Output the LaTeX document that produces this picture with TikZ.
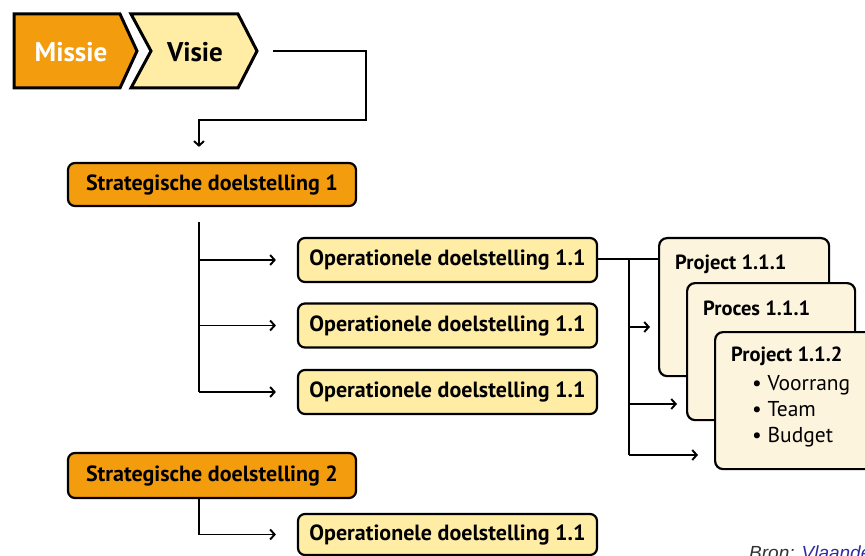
\documentclass[tikz,border=0pt]{standalone}
\usepackage{fontspec}
\setmainfont{PT Sans}
\newfontfamily\bronfont{Liberation Sans}
\usetikzlibrary{arrows.meta,calc}
\definecolor{orng}{RGB}{243,156,14}
\definecolor{lyel}{RGB}{255,237,166}
\definecolor{cream}{RGB}{253,244,222}
\definecolor{bronblue}{RGB}{45,45,160}
\definecolor{brongray}{RGB}{50,50,50}
\begin{document}
\begin{tikzpicture}[x=1pt,y=-1pt,
  strat/.style={draw=black, line width=2.2pt, rounded corners=7pt, fill=orng,
    minimum width=288pt, minimum height=43pt, inner sep=0pt,
    font=\bfseries\fontsize{22}{24}\selectfont},
  oper/.style={strat, fill=lyel, minimum width=299pt, minimum height=44pt},
  proj/.style={draw=black, line width=2.2pt, rounded corners=8pt, fill=cream,
    anchor=north west, inner sep=0pt},
  projtitle/.style={anchor=west, inner sep=0pt, font=\bfseries\fontsize{20.5}{22}\selectfont},
  items/.style={anchor=north west, inner sep=0pt, align=left,
    font=\fontsize{21.5}{26}\selectfont},
  chev/.style={draw=black, line width=3pt, line join=miter},
  chevtext/.style={font=\bfseries\fontsize{27}{30}\selectfont, inner sep=0pt},
  conn/.style={line width=1.9pt},
  arr/.style={conn, -{Straight Barb[length=4.5pt,width=10pt,line width=1.9pt]}}
]
\useasboundingbox (0,0) rectangle (865,556);
\clip (0,0) rectangle (865,556);

% Missie / Visie chevrons
\draw[chev, fill=orng] (14,14) -- (120,14) -- (137,51) -- (120,88) -- (14,88) -- cycle;
\draw[chev, fill=lyel] (131,14) -- (238,14) -- (257,51) -- (238,88) -- (131,88) -- (151,51) -- cycle;
\node[chevtext, text=white] (missie) at (71,52) {Missie};
\node[chevtext] (visie) at (195,52) {Visie};

% Strategic goals
\node[strat] (s1) at (212,184.5) {Strategische doelstelling 1};
\node[strat, minimum height=45pt] (s2) at (212,475.5) {Strategische doelstelling 2};

% Operational goals
\node[oper] (o1) at (447.5,260) {Operationele doelstelling 1.1};
\node[oper] (o2) at (447.5,325.5) {Operationele doelstelling 1.1};
\node[oper] (o3) at (447.5,392) {Operationele doelstelling 1.1};
\node[oper, minimum height=41pt] (o4) at (447.5,534.5) {Operationele doelstelling 1.1};

% Project / process cards
\node[proj, minimum width=170pt, minimum height=138pt] (p1) at (658,237) {};
\node[projtitle] (p1t) at ($(p1.north west)+(17,27)$) {Project 1.1.1};
\node[proj, minimum width=168pt, minimum height=137pt] (p2) at (686,282) {};
\node[projtitle] (p2t) at ($(p2.north west)+(17,26)$) {Proces 1.1.1};
\node[proj, minimum width=190pt, minimum height=137pt] (p3) at (714,331) {};
\node[projtitle] (p3t) at ($(p3.north west)+(17,25)$) {Project 1.1.2};
\node[items] (p3i) at ($(p3.north west)+(38,44)$) {• Voorrang\\• Team\\• Budget};

% Visie -> Strategische doelstelling 1
\coordinate (v0) at (273,51);
\coordinate (vturn) at (366,120);
\coordinate (s1in) at ($(s1.north)+(-13,-15)$);
\draw[arr] (v0) -| (vturn) -| (s1in);

% Strategische doelstelling 1 -> operational goals
\coordinate (s1b) at ($(s1.south)+(-13,15)$);
\draw[conn] (s1b) -- (s1b |- o3.west);
\draw[arr] (s1b |- o1.west) -- ([xshift=-21pt]o1.west);
\draw[arr] (s1b |- o2.west) -- ([xshift=-21pt]o2.west);
\draw[arr] (s1b |- o3.west) -- ([xshift=-21pt]o3.west);

% Strategische doelstelling 2 -> operational goal
\coordinate (s2b) at ($(s2.south)+(-13,0)$);
\draw[arr] (s2b) |- ([xshift=-21pt]o4.west);

% Operational goal 1.1 -> projects
\coordinate (ob) at ($(o1.east)+(31,-1)$);
\coordinate (obend) at ($(ob)+(0,196)$);
\draw[conn] ($(o1.east)+(0,-1)$) -- (p1.west |- ob);
\draw[conn] (ob) -- (obend);
\draw[arr] ($(ob)+(0,68)$) -- ($(p1.west |- ob)+(-8,68)$);
\draw[arr] ($(ob)+(0,145)$) -- ($(p2.west |- ob)+(-9,145)$);
\draw[arr] (obend) -- ($(p3.west |- obend)+(-16,0)$);

% Source
\node[anchor=base west, inner sep=0pt, font=\bronfont\itshape\fontsize{19}{22}\selectfont]
  (bron) at (749,559) {\textcolor{brongray}{Bron:} \textcolor{bronblue}{Vlaanderen}};
\end{tikzpicture}
\end{document}
